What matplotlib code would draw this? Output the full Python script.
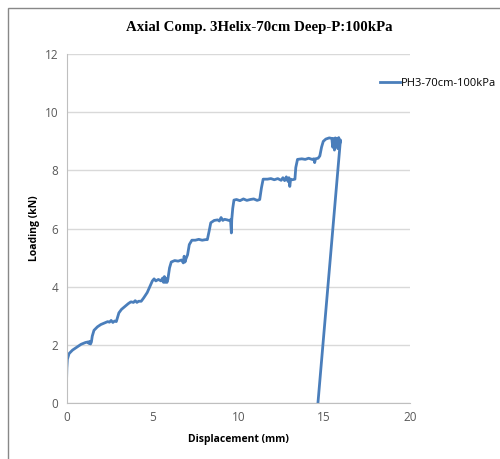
import matplotlib
matplotlib.use('Agg')
import matplotlib.pyplot as plt
from matplotlib.patches import Rectangle
from matplotlib.lines import Line2D

disp_mm = [0, 0.0, 0.02, 0.05, 0.15, 0.35, 0.6, 0.85, 1.1, 1.25, 1.3, 1.35, 1.4, 1.45,
           1.5, 1.6, 1.8, 2.0, 2.2, 2.4, 2.5, 2.6, 2.7, 2.8, 2.9, 2.95, 3.05, 3.2, 3.4,
           3.6, 3.75, 3.9, 4.0, 4.1, 4.2, 4.35, 4.5, 4.7, 4.85, 5.0, 5.1, 5.2, 5.35, 5.5,
           5.6, 5.65, 5.7, 5.75, 5.8, 5.85, 5.9, 6.0, 6.1, 6.3, 6.5, 6.7, 6.8, 6.85, 6.9,
           6.95, 7.05, 7.15, 7.3, 7.5, 7.7, 7.9, 8.1, 8.2, 8.3, 8.4, 8.6, 8.8, 8.9, 9.0,
           9.1, 9.2, 9.35, 9.45, 9.55, 9.6, 9.62, 9.68, 9.75, 9.9, 10.1, 10.3, 10.5, 10.7,
           10.9, 11.1, 11.25, 11.35, 11.45, 11.7, 11.9, 12.1, 12.3, 12.5, 12.6, 12.7, 12.8,
           12.9, 12.95, 13.0, 13.05, 13.15, 13.3, 13.35, 13.45, 13.7, 13.9, 14.1, 14.3,
           14.4, 14.45, 14.5, 14.65, 14.75, 14.85, 14.95, 15.1, 15.3, 15.45, 15.5, 15.55,
           15.6, 15.65, 15.7, 15.75, 15.8, 15.85, 15.9, 15.95, 14.64]
load_kn = [0, 0.7, 1.2, 1.5, 1.7, 1.82, 1.92, 2.02, 2.08, 2.1, 2.05, 2.12, 2.03, 2.1,
           2.3, 2.5, 2.62, 2.7, 2.75, 2.8, 2.78, 2.84, 2.77, 2.82, 2.8, 2.9, 3.1, 3.22, 3.32,
           3.42, 3.48, 3.46, 3.52, 3.46, 3.5, 3.5, 3.62, 3.8, 4.0, 4.2, 4.27, 4.2, 4.25, 4.2,
           4.3, 4.15, 4.35, 4.15, 4.28, 4.15, 4.25, 4.65, 4.85, 4.9, 4.88, 4.92, 4.82, 5.05, 4.85,
           4.95, 5.1, 5.45, 5.6, 5.6, 5.63, 5.6, 5.62, 5.62, 5.9, 6.2, 6.28, 6.3, 6.26, 6.38,
           6.28, 6.32, 6.3, 6.28, 6.3, 5.85, 6.3, 6.7, 6.98, 7.0, 6.96, 7.02, 6.97, 7.0,
           7.02, 6.97, 7.0, 7.4, 7.7, 7.7, 7.72, 7.68, 7.72, 7.66, 7.75, 7.65, 7.78,
           7.62, 7.75, 7.45, 7.7, 7.68, 7.7, 8.1, 8.38, 8.4, 8.38, 8.42, 8.38,
           8.4, 8.27, 8.4, 8.42, 8.5, 8.8, 9.0, 9.08, 9.12, 9.1, 8.8, 9.1,
           8.7, 9.12, 8.85, 9.1, 8.75, 9.13, 8.9, 9.05, 0]

x_ticks = [0, 5, 10, 15, 20]
y_ticks = [0, 2, 4, 6, 8, 10, 12]

fig = plt.figure(figsize=(5, 4.59), dpi=100)
ax = fig.add_axes([0.133, 0.122, 0.687, 0.76])

ax.plot(disp_mm, load_kn, color='#4a7ebb', lw=2.0, solid_joinstyle='round')

ax.set_xlim(0, 20)
ax.set_ylim(0, 12)
ax.set_xticks(x_ticks)
ax.set_yticks(y_ticks)
ax.grid(axis='y', color='#d9d9d9', lw=1)
ax.set_axisbelow(True)
for s in ['top', 'right']:
    ax.spines[s].set_visible(False)
for s in ['left', 'bottom']:
    ax.spines[s].set_color('#bfbfbf')
ax.tick_params(length=0, colors='#595959', labelsize=8.5, pad=6)
for lab in ax.get_xticklabels() + ax.get_yticklabels():
    lab.set_family('Open Sans')

ax.set_xlabel('Displacement (mm)', fontsize=7.5, fontweight='bold', family='Open Sans', labelpad=7)
ax.set_ylabel('Loading (kN)', fontsize=7.5, fontweight='bold', family='Open Sans', labelpad=3)

fig.text(0.518, 0.94, 'Axial Comp. 3Helix-70cm Deep-P:100kPa', ha='center', va='center',
         fontsize=10.7, fontweight='bold', family='Liberation Serif')

h = Line2D([], [], color='#4a7ebb', lw=2.0)
fig.legend([h], ['PH3-70cm-100kPa'], loc='center left', bbox_to_anchor=(0.74, 0.818),
           frameon=False, handlelength=1.8, handletextpad=0.1,
           prop={'family': 'Open Sans', 'size': 8})

fig.patches.append(Rectangle((8 / 500, -0.1), 1.0, (451 / 459) + 0.1, transform=fig.transFigure,
                             fill=False, edgecolor='#888888', lw=1))

fig.savefig('out.png', dpi=100)
